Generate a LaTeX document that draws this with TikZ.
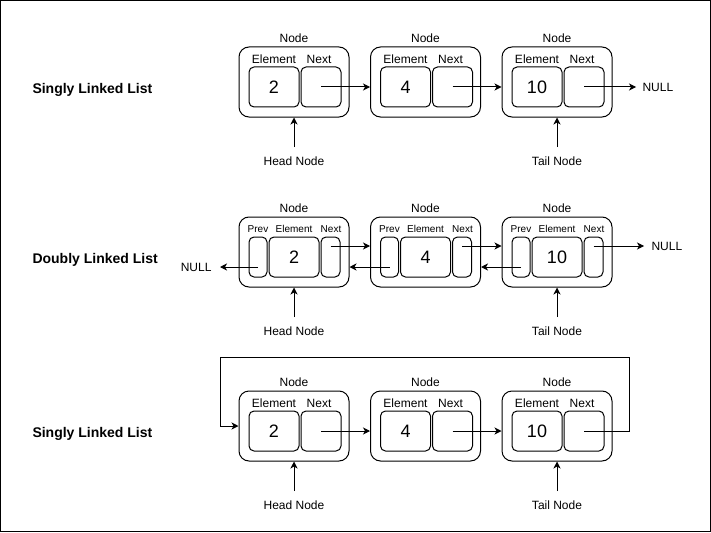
\documentclass[tikz,border=0pt]{standalone}
\usepackage{fontspec}
\setmainfont{Liberation Sans}
\usetikzlibrary{arrows.meta,calc}

\tikzset{
  nodebox/.style={draw, rounded corners=10pt, minimum width=110pt, minimum height=70pt, inner sep=0pt},
  cellbox/.style={draw, rounded corners=5pt, minimum height=40pt, inner sep=0pt},
  lbl/.style={font=\fontsize{12}{14}\selectfont, inner sep=0pt},
  smalllbl/.style={font=\fontsize{10}{12}\selectfont, inner sep=0pt},
  val/.style={font=\fontsize{18}{20}\selectfont},
  title/.style={font=\fontsize{14}{16}\selectfont\bfseries, anchor=west, inner sep=0pt},
  arr/.style={-{Stealth[length=7pt,width=7pt,inset=2pt]}},
}

\begin{document}
\begin{tikzpicture}[x=1pt, y=-1pt, line width=1pt]

% Frame of the whole picture
\useasboundingbox (0,0) rectangle (711,532);
\draw (0.5,0.5) rectangle (710.5,531.5);

% Titles
\node[title] (t1) at (32,90) {Singly Linked List};
\node[title] (t2) at (32,260) {Doubly Linked List};
\node[title] (t3) at (32,434) {Singly Linked List};

% The two singly linked lists (s = first, c = circular one)
\foreach \lst/\yo in {s/0, c/344} {
  \foreach \x/\v/\i in {239/2/1, 370.5/4/2, 502/10/3} {
    \node[lbl] (\lst\i-title) at (\x+55,38+\yo) {Node};
    \node[nodebox] (\lst\i) at (\x+55,82+\yo) {};
    \node[lbl] (\lst\i-ellbl) at (\x+35,59+\yo) {Element};
    \node[lbl] (\lst\i-nxlbl) at (\x+80,59+\yo) {Next};
    \node[cellbox, val, minimum width=50pt] (\lst\i-el) at (\x+35,87+\yo) {\v};
    \node[cellbox, minimum width=40pt] (\lst\i-next) at (\x+82,87+\yo) {};
  }
  % links
  \draw[arr] (\lst1-next.center) -- (\lst1-next.center -| \lst2.west);
  \draw[arr] (\lst2-next.center) -- (\lst2-next.center -| \lst3.west);
  % head and tail
  \node[lbl] (\lst-head) at (294,161+\yo) {Head Node};
  \node[lbl] (\lst-tail) at (557,161+\yo) {Tail Node};
  \draw[arr, shorten <=9pt] (\lst-head.north) -- (\lst1.south);
  \draw[arr, shorten <=9pt] (\lst-tail.north) -- (\lst3.south);
}

% End of the first list
\node[lbl, anchor=west, inner xsep=6pt] (null1) at (636,87) {NULL};
\draw[arr] (s3-next.center) -- (null1.west);

% Circular list: back to the head
\coordinate (loopR) at (629,357);
\coordinate (loopL) at (220,357);
\draw[arr] (c3-next.center) -| (loopR) -- (loopL) |- (c1.west);

% Doubly linked list
\foreach \x/\v/\i in {239/2/1, 370.5/4/2, 502/10/3} {
  \node[lbl] (d\i-title) at (\x+55,208) {Node};
  \node[nodebox] (d\i) at (\x+55,252) {};
  \node[smalllbl] (d\i-pvlbl) at (\x+19,229) {Prev};
  \node[smalllbl] (d\i-ellbl) at (\x+55,229) {Element};
  \node[smalllbl] (d\i-nxlbl) at (\x+92,229) {Next};
  \node[cellbox, minimum width=18pt] (d\i-prev) at (\x+19,257) {};
  \node[cellbox, val, minimum width=50pt] (d\i-el) at (\x+55,257) {\v};
  \node[cellbox, minimum width=19pt] (d\i-next) at (\x+91.5,257) {};
}
% forward and backward links
\draw[arr] ($(d1-next.center)+(0,-11)$) -- ($(d1-next.center -| d2.west)+(0,-11)$);
\draw[arr] ($(d2-next.center)+(0,-11)$) -- ($(d2-next.center -| d3.west)+(0,-11)$);
\draw[arr] ($(d2-prev.center)+(0,10)$) -- ($(d2-prev.center -| d1.east)+(0,10)$);
\draw[arr] ($(d3-prev.center)+(0,10)$) -- ($(d3-prev.center -| d2.east)+(0,10)$);

% NULL ends
\node[lbl, anchor=east, inner xsep=8pt] (nullL) at (220,267) {NULL};
\node[lbl, anchor=west, inner xsep=7pt] (nullR) at (644,246) {NULL};
\draw[arr] ($(d1-prev.center)+(0,10)$) -- (nullL.east);
\draw[arr] ($(d3-next.center)+(0,-11)$) -- (nullR.west);

% head and tail
\node[lbl] (d-head) at (294,331) {Head Node};
\node[lbl] (d-tail) at (557,331) {Tail Node};
\draw[arr, shorten <=9pt] (d-head.north) -- (d1.south);
\draw[arr, shorten <=9pt] (d-tail.north) -- (d3.south);

\end{tikzpicture}
\end{document}
